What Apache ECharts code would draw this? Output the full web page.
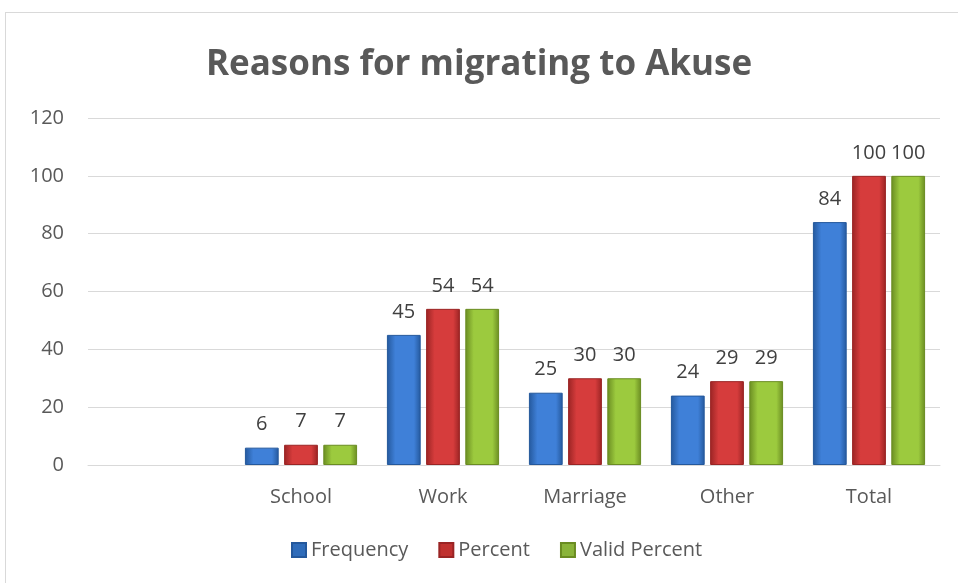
<!DOCTYPE html>
<html>
<head>
<meta charset="utf-8">
<script src="https://cdn.jsdelivr.net/npm/echarts@6/dist/echarts.min.js"></script>
<style>
html,body{margin:0;padding:0;background:#fff;}
#box{position:absolute;left:5px;top:12px;width:960px;height:580px;border:1px solid #d9d9d9;box-sizing:border-box;}
#main{width:958px;height:583px;}
</style>
</head>
<body>
<div id="box"></div>
<div id="main"></div>
<script>
var categories = ['', 'School', 'Work', 'Marriage', 'Other', 'Total'];
var frequency = [null, 6, 45, 25, 24, 84];
var percent = [null, 7, 54, 30, 29, 100];
var validPercent = [null, 7, 54, 30, 29, 100];
var yTicks = {min: 0, max: 120, interval: 20};

function barFill(edge, mid){
	return new echarts.graphic.LinearGradient(0, 0, 1, 0, [
		{offset: 0, color: edge},
		{offset: 0.25, color: mid},
		{offset: 0.8, color: mid},
		{offset: 1, color: edge}
	]);
}

function makeSeries(name, data, edge, mid){
	return {
		name: name,
		type: 'bar',
		data: data,
		barGap: '16%',
		barCategoryGap: '21%',
		itemStyle: {color: barFill(edge, mid), borderColor: edge, borderWidth: 1},
		label: {
			show: true,
			position: 'top',
			distance: 13,
			color: '#404040',
			fontSize: 20,
			fontFamily: 'Open Sans'
		}
	};
}

var myChart = echarts.init(document.getElementById('main'));
var option = {
	animation: false,
	title: {
		text: 'Reasons for migrating to Akuse',
		left: 'center',
		top: 43,
		textStyle: {fontSize: 35, fontWeight: 'bold', color: '#595959', fontFamily: 'Open Sans'}
	},
	legend: {
		bottom: 18,
		left: 286,
		itemWidth: 14,
		itemHeight: 14,
		itemGap: 30,
		textStyle: {fontSize: 20, color: '#595959', fontFamily: 'Open Sans'},
		data: [
			{name: 'Frequency', icon: 'rect', itemStyle: {color: '#2f6cba'}},
			{name: 'Percent', icon: 'rect', itemStyle: {color: '#c0312f'}},
			{name: 'Valid Percent', icon: 'rect', itemStyle: {color: '#8ab43a'}}
		]
	},
	grid: {left: 88, right: 18, top: 118, bottom: 118},
	xAxis: {
		type: 'category',
		data: categories,
		axisLine: {lineStyle: {color: '#d9d9d9'}},
		axisTick: {show: false},
		axisLabel: {color: '#595959', fontSize: 20, fontFamily: 'Open Sans', margin: 22}
	},
	yAxis: {
		type: 'value',
		min: yTicks.min,
		max: yTicks.max,
		interval: yTicks.interval,
		axisLine: {show: false},
		axisTick: {show: false},
		splitLine: {lineStyle: {color: '#d9d9d9'}},
		axisLabel: {color: '#595959', fontSize: 20, fontFamily: 'Open Sans', margin: 24}
	},
	series: [
		makeSeries('Frequency', frequency, '#24589c', '#3f80d8'),
		makeSeries('Percent', percent, '#9a2424', '#d63c3c'),
		makeSeries('Valid Percent', validPercent, '#6a8c22', '#9cca3e')
	]
};
myChart.setOption(option, true);
</script>
</body>
</html>
